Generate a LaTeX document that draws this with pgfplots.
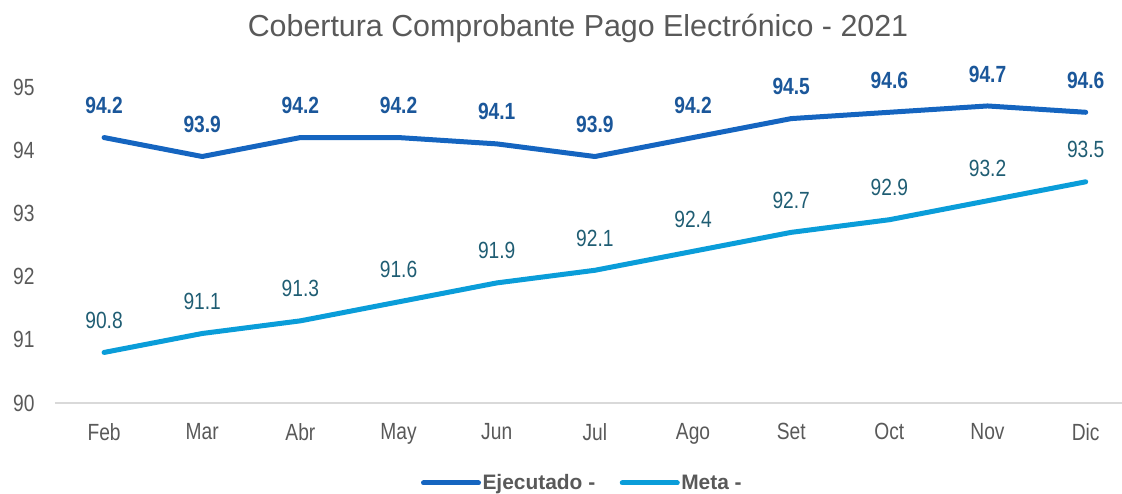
\documentclass[border=0pt]{standalone}
\usepackage{pgfplots}
\pgfplotsset{compat=1.18}
\usepackage{fontspec}
\setmainfont{Liberation Sans}[FakeStretch=0.82]
\newfontfamily\widefont{Liberation Sans}
\definecolor{ejec}{RGB}{21,101,192}
\definecolor{meta}{RGB}{10,157,217}
\definecolor{ejeclab}{RGB}{27,87,154}
\definecolor{metalab}{RGB}{31,93,115}
\definecolor{txtgray}{RGB}{89,89,89}
\definecolor{basegray}{RGB}{217,217,217}

\begin{document}
\begin{tikzpicture}
\begin{axis}[name=ax, scale only axis, width=1067bp, height=316bp,
  clip=false,
  xmin=-0.5, xmax=10.37, ymin=90, ymax=95,
  xtick={0,...,10},
  xticklabels={Feb,Mar,Abr,May,Jun,Jul,Ago,Set,Oct,Nov,Dic},
  ytick={90,91,92,93,94,95},
  axis x line*=bottom, axis y line*=left,
  y axis line style={draw=none},
  x axis line style={draw=basegray, line width=1.5bp, -},
  major tick length=0pt,
  /pgf/number format/assume math mode=true,
  tick label style={font=\fontsize{23.5}{26}\selectfont, text=txtgray},
  yticklabel style={xshift=-17bp},
  xticklabel style={yshift=-17bp},
  legend style={at={(axis description cs:0.494,-0.253)}, anchor=center,
    legend columns=2, draw=none, fill=none,
    font=\widefont\fontsize{21}{24}\selectfont\bfseries, text=txtgray,
    nodes={inner sep=1.5bp},
    /tikz/every even column/.append style={column sep=23bp}},
  legend image code/.code={\draw[#1, line cap=round] (0bp,0bp) -- (55bp,0bp);},
  nodes near coords={\pgfmathprintnumber[fixed,fixed zerofill,precision=1]{\pgfplotspointmeta}},
  every node near coord/.append style={anchor=center, yshift=32bp,
    font=\fontsize{23.5}{26}\selectfont},
]
\addplot[ejec, line width=5bp, line cap=round, line join=round,
  nodes near coords style={text=ejeclab, font=\fontsize{23.5}{26}\selectfont\bfseries}]
  coordinates {(0,94.2) (1,93.9) (2,94.2) (3,94.2) (4,94.1) (5,93.9)
    (6,94.2) (7,94.5) (8,94.6) (9,94.7) (10,94.6)};
\addlegendentry{Ejecutado -}
\addplot[meta, line width=5bp, line cap=round, line join=round,
  nodes near coords style={text=metalab}]
  coordinates {(0,90.8) (1,91.1) (2,91.3) (3,91.6) (4,91.9) (5,92.1)
    (6,92.4) (7,92.7) (8,92.9) (9,93.2) (10,93.5)};
\addlegendentry{Meta -}
\end{axis}
\node[anchor=base, text=txtgray, font=\widefont\fontsize{30.5}{34}\selectfont]
  at ([xshift=523bp,yshift=50bp]ax.north west)
  {Cobertura Comprobante Pago Electrónico - 2021};
\pgfresetboundingbox
\path[use as bounding box] ([xshift=-55bp,yshift=-90bp]ax.south west)
  rectangle ([yshift=87bp]ax.north east);
\end{tikzpicture}
\end{document}
